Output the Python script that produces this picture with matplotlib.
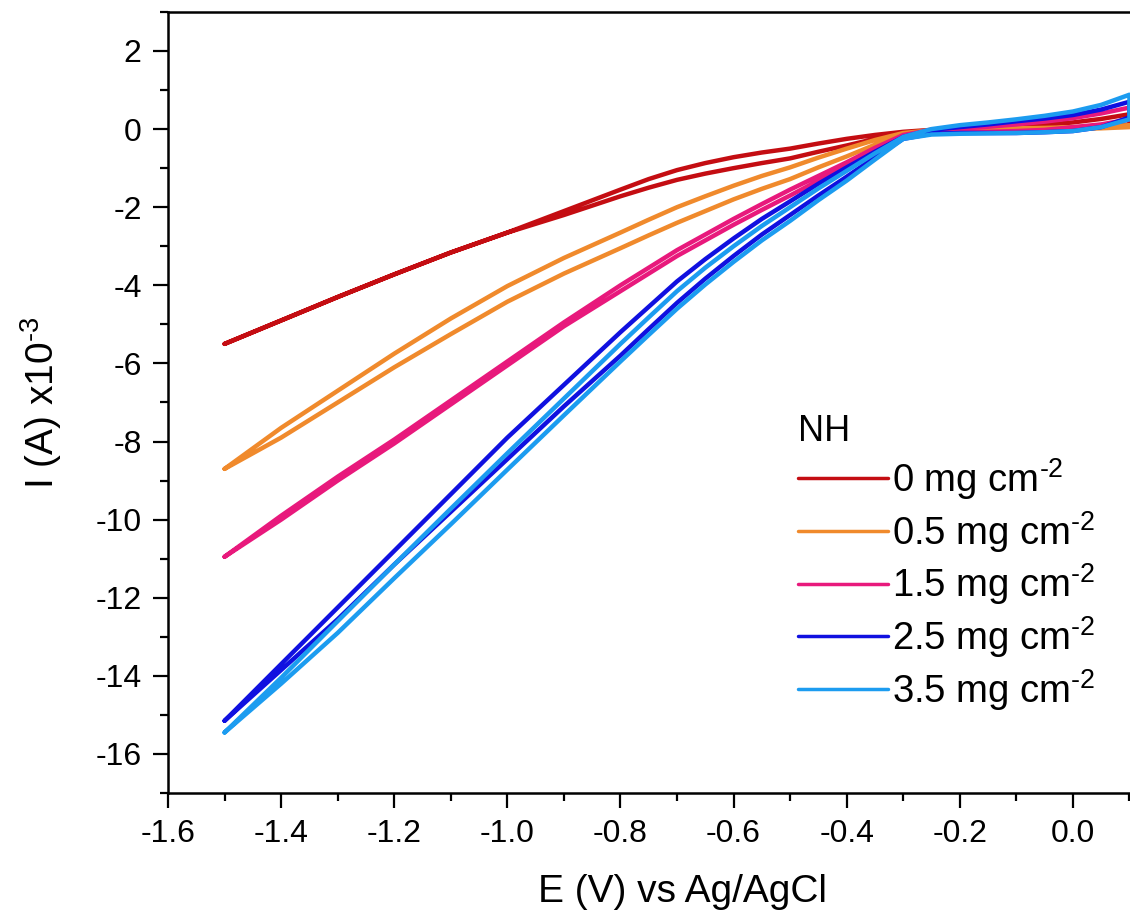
import numpy as np
import matplotlib
matplotlib.use("Agg")
import matplotlib.pyplot as plt
from matplotlib.ticker import MultipleLocator, FormatStrFormatter

plt.rcParams['font.family'] = ['Liberation Sans', 'DejaVu Sans']
plt.rcParams['mathtext.fontset'] = 'custom'
plt.rcParams['mathtext.rm'] = 'Liberation Sans'
plt.rcParams['mathtext.it'] = 'Liberation Sans'
plt.rcParams['mathtext.default'] = 'regular'
plt.rcParams['axes.unicode_minus'] = False

# potential grid (V vs Ag/AgCl)
E = [-1.5, -1.4, -1.3, -1.2, -1.1, -1.0, -0.9, -0.8, -0.75, -0.7, -0.65,
     -0.6, -0.55, -0.5, -0.45, -0.4, -0.35, -0.3, -0.25, -0.2, -0.15,
     -0.1, -0.05, 0.0, 0.05, 0.1]

# current (x1e-3 A), two branches of each sweep
i_0_up = [-5.5, -4.9, -4.3, -3.72, -3.16, -2.65, -2.1, -1.55, -1.28, -1.05, -0.87,
          -0.72, -0.6, -0.5, -0.37, -0.25, -0.15, -0.07, -0.02, 0.02, 0.04,
          0.07, 0.11, 0.17, 0.26, 0.38]
i_0_dn = [-5.5, -4.9, -4.3, -3.72, -3.16, -2.65, -2.2, -1.72, -1.5, -1.3, -1.14,
          -1.0, -0.87, -0.75, -0.58, -0.42, -0.25, -0.1, -0.06, -0.05, -0.05,
          -0.04, -0.02, 0.0, 0.05, 0.12]

i_05_up = [-8.7, -7.65, -6.7, -5.75, -4.85, -4.02, -3.3, -2.65, -2.32, -2.0, -1.72,
           -1.45, -1.2, -0.98, -0.73, -0.5, -0.28, -0.1, -0.03, 0.0, 0.01,
           0.02, 0.03, 0.05, 0.07, 0.1]
i_05_dn = [-8.7, -7.9, -7.0, -6.1, -5.25, -4.42, -3.7, -3.05, -2.72, -2.4, -2.1,
           -1.8, -1.53, -1.28, -0.98, -0.7, -0.4, -0.14, -0.07, -0.05, -0.04,
           -0.02, -0.01, 0.0, 0.02, 0.05]

i_15_up = [-10.95, -9.9, -8.9, -7.95, -6.95, -5.95, -4.95, -4.0, -3.55, -3.1, -2.7,
           -2.3, -1.92, -1.55, -1.2, -0.85, -0.48, -0.15, -0.02, 0.02, 0.06,
           0.12, 0.19, 0.28, 0.4, 0.55]
i_15_dn = [-10.95, -10.0, -9.0, -8.05, -7.05, -6.05, -5.05, -4.15, -3.7, -3.25, -2.85,
           -2.45, -2.07, -1.7, -1.32, -0.95, -0.58, -0.2, -0.1, -0.08, -0.07,
           -0.05, -0.02, 0.05, 0.12, 0.25]

i_25_up = [-15.15, -13.7, -12.25, -10.8, -9.35, -7.9, -6.55, -5.2, -4.55, -3.9, -3.33,
           -2.8, -2.3, -1.85, -1.4, -0.98, -0.58, -0.2, -0.02, 0.05, 0.12,
           0.2, 0.27, 0.36, 0.5, 0.7]
i_25_dn = [-15.15, -13.85, -12.55, -11.15, -9.8, -8.45, -7.1, -5.8, -5.12, -4.45, -3.83,
           -3.25, -2.7, -2.2, -1.7, -1.22, -0.72, -0.25, -0.12, -0.1, -0.1,
           -0.1, -0.08, -0.05, 0.05, 0.3]

i_35_up = [-15.45, -14.05, -12.6, -11.15, -9.72, -8.3, -6.9, -5.5, -4.82, -4.15, -3.55,
           -3.0, -2.48, -2.0, -1.52, -1.07, -0.62, -0.2, 0.0, 0.1, 0.17,
           0.25, 0.34, 0.45, 0.62, 0.88]
i_35_dn = [-15.45, -14.2, -12.9, -11.5, -10.12, -8.72, -7.33, -5.95, -5.27, -4.6, -3.98,
           -3.4, -2.85, -2.35, -1.82, -1.32, -0.78, -0.25, -0.14, -0.12, -0.11,
           -0.1, -0.08, -0.05, 0.05, 0.25]

labels = [r'0 mg cm$^{\text{-}2}$', r'0.5 mg cm$^{\text{-}2}$',
          r'1.5 mg cm$^{\text{-}2}$', r'2.5 mg cm$^{\text{-}2}$',
          r'3.5 mg cm$^{\text{-}2}$']
colors = ['#c40d12', '#f08a2c', '#e8197c', '#1010e0', '#1c9cf0']
branches = [(i_0_up, i_0_dn), (i_05_up, i_05_dn), (i_15_up, i_15_dn),
            (i_25_up, i_25_dn), (i_35_up, i_35_dn)]

fig = plt.figure(figsize=(11.3, 9.17), dpi=100)
ax = fig.add_axes([0.1487, 0.1352, 1.0 - 0.1487, 0.987 - 0.1352])

for (up, dn), c, lab in zip(branches, colors, labels):
    x = list(E) + list(E[::-1])
    y = list(up) + list(dn[::-1])
    ax.plot(x, y, color=c, lw=3.2, label=lab,
            solid_capstyle='round', solid_joinstyle='round')

ax.set_xlim(-1.6, 0.101)
ax.set_ylim(-17, 3)
ax.xaxis.set_major_locator(MultipleLocator(0.2))
ax.xaxis.set_minor_locator(MultipleLocator(0.1))
ax.xaxis.set_major_formatter(FormatStrFormatter('%.1f'))
ax.yaxis.set_major_locator(MultipleLocator(2))
ax.yaxis.set_minor_locator(MultipleLocator(1))

for s in ['left', 'bottom', 'top']:
    ax.spines[s].set_linewidth(1.8)
ax.spines['right'].set_visible(False)
ax.tick_params(which='major', direction='out', length=11, width=1.6,
               labelsize=23, pad=8, top=False, right=False)
ax.tick_params(which='minor', direction='out', length=6, width=1.6,
               top=False, right=False)

ax.set_xlabel('E (V) vs Ag/AgCl', fontsize=28)
ax.xaxis.set_label_coords(0.535, -0.104)
ax.set_ylabel(r'I (A) x10$^{\text{-}3}$', fontsize=28)
ax.yaxis.set_label_coords(-0.108, 0.5)

leg = ax.legend(title='NH', loc='upper left', bbox_to_anchor=(0.655, 0.485),
                frameon=False, fontsize=27.5, title_fontsize=26,
                handlelength=2.35, handletextpad=0.1, labelspacing=0.18,
                borderpad=0, borderaxespad=0, alignment='left')
for line in leg.get_lines():
    line.set_linewidth(2.5)

fig.savefig('out.png', dpi=100)
